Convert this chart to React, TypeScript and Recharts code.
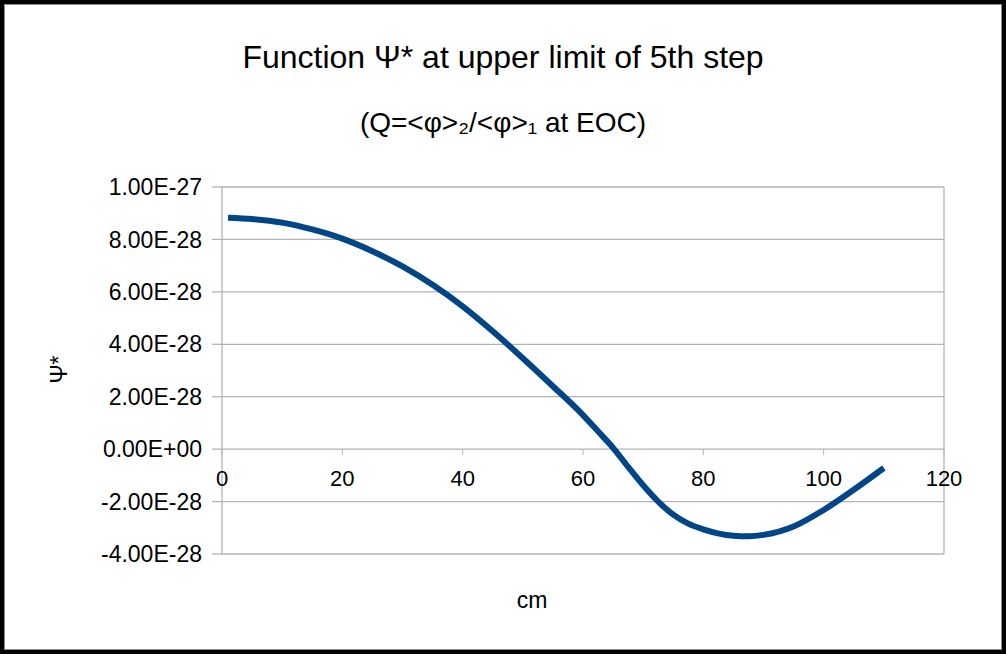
import React from 'react';
import { LineChart, Line, XAxis, YAxis, CartesianGrid, ReferenceLine } from 'recharts';

// distance along the core (cm)
const positions = [1, 5, 10, 15, 20, 25, 30, 35, 40, 45, 50, 55, 60, 62.5, 65, 67.5, 70, 72.5, 75, 77.5, 80, 85, 87.5, 90, 95, 100, 105, 110];
// Psi* values
const psiValues = [
  8.83e-28, 8.78e-28, 8.64e-28, 8.38e-28, 8.03e-28, 7.55e-28, 6.97e-28, 6.27e-28, 5.45e-28, 4.5e-28,
  3.47e-28, 2.4e-28, 1.3e-28, 0.68e-28, 0.05e-28, -0.68e-28, -1.38e-28, -2.0e-28, -2.5e-28, -2.84e-28,
  -3.06e-28, -3.3e-28, -3.32e-28, -3.27e-28, -2.95e-28, -2.32e-28, -1.55e-28, -0.72e-28,
];
const xTicks = [0, 20, 40, 60, 80, 100, 120];
const yTicks = [-4e-28, -2e-28, 0, 2e-28, 4e-28, 6e-28, 8e-28, 1e-27];

const data = positions.map((x, i) => ({ x, psi: psiValues[i] }));

const FONT = '"Liberation Sans", Arial, sans-serif';
const GRID = '#b3b3b3';
const CHART_W = 996;
const CHART_H = 644;
const MARGIN = { top: 182, right: 57, bottom: 65, left: 0 };
const X_AXIS_H = 30;
const PLOT_H = CHART_H - MARGIN.top - MARGIN.bottom - X_AXIS_H;
const Y_MIN = yTicks[0];
const Y_MAX = yTicks[yTicks.length - 1];
// where the x axis crosses (value 0)
const ZERO_Y = MARGIN.top + (PLOT_H * Y_MAX) / (Y_MAX - Y_MIN);

const sci = (v: number) => {
  const [m, e] = v.toExponential(2).split('e');
  const sign = e[0] === '-' ? '-' : '+';
  const digits = e.replace(/[+-]/, '').padStart(2, '0');
  return `${m}E${sign}${digits}`;
};

const XTick = (props: any) => {
  const { x, payload } = props;
  return (
    <g>
      <line x1={x} x2={x} y1={ZERO_Y} y2={ZERO_Y + 6} stroke={GRID} />
      <text x={x} y={ZERO_Y + 37} textAnchor="middle" fill="#000" fontSize={22} fontFamily={FONT}>
        {payload.value}
      </text>
    </g>
  );
};

export default function App() {
  return (
    <div style={{ position: 'absolute', left: 0, top: 0, width: 1006, height: 654, background: '#fff', fontFamily: FONT }}>
      <div style={{ position: 'absolute', left: 0, top: 0, width: 1006, height: 654, boxSizing: 'border-box', border: '4px solid #000' }} />
      <div style={{ position: 'absolute', left: 4, top: 4, width: 998, height: 646, boxSizing: 'border-box', border: '1px solid #8c8c8c' }} />
      <div style={{ position: 'absolute', left: 5, top: 5 }}>
        <LineChart width={CHART_W} height={CHART_H} data={data} margin={MARGIN}>
          <CartesianGrid vertical={false} stroke={GRID} strokeWidth={1.3} />
          <XAxis
            dataKey="x"
            type="number"
            domain={[0, 120]}
            ticks={xTicks}
            height={X_AXIS_H}
            axisLine={false}
            tickLine={false}
            tick={<XTick />}
            interval={0}
          />
          <YAxis
            type="number"
            domain={[Y_MIN, Y_MAX]}
            ticks={yTicks}
            width={217}
            interval={0}
            tickFormatter={sci}
            tickSize={10}
            tickMargin={10}
            axisLine={{ stroke: GRID, strokeWidth: 1.3 }}
            tickLine={{ stroke: GRID, strokeWidth: 1.3 }}
            tick={{ fill: '#000', fontSize: 23, fontFamily: FONT }}
          />
          <ReferenceLine x={120} stroke={GRID} strokeWidth={1.3} />
          <Line
            type="monotone"
            dataKey="psi"
            stroke="#004586"
            strokeWidth={6}
            dot={false}
            isAnimationActive={false}
          />
        </LineChart>
      </div>
      <div style={{ position: 'absolute', left: 0, width: 1006, top: 41, textAlign: 'center', fontSize: 32, lineHeight: '32px', color: '#000' }}>
        Function Ψ* at upper limit of 5th step
      </div>
      <div style={{ position: 'absolute', left: 0, width: 1006, top: 109, textAlign: 'center', fontSize: 28, lineHeight: '28px', color: '#000' }}>
        (Q=&lt;φ&gt;₂/&lt;φ&gt;₁ at EOC)
      </div>
      <div style={{ position: 'absolute', left: 482, width: 100, top: 589, textAlign: 'center', fontSize: 23, lineHeight: '23px', color: '#000' }}>
        cm
      </div>
      <div style={{ position: 'absolute', left: 9, width: 100, top: 358, textAlign: 'center', fontSize: 23, lineHeight: '23px', color: '#000', transform: 'rotate(-90deg)' }}>
        Ψ*
      </div>
    </div>
  );
}
